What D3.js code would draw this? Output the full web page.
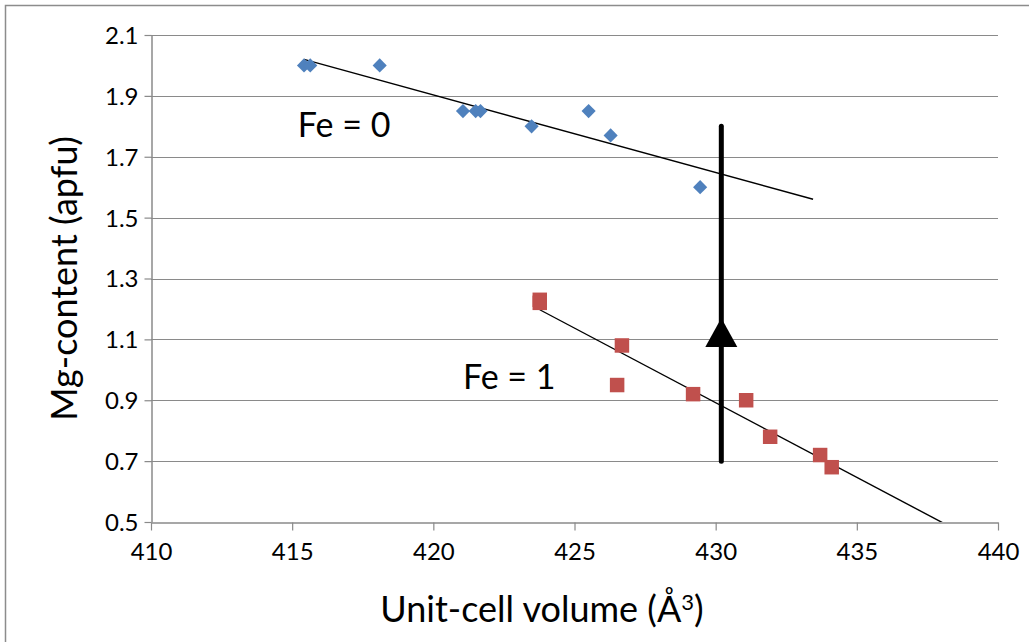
<!DOCTYPE html>
<html>
<head>
<meta charset="utf-8">
<script src="https://cdn.jsdelivr.net/npm/d3@7"></script>
<style>
  body { margin: 0; background: #fff; }
  text { font-family: Lato, "Open Sans", sans-serif; fill: #000; }
</style>
</head>
<body>
<div id="chart"></div>
<script>
// Fe = 0 series (blue diamonds)
var fe0Volume = [415.42, 415.64, 418.1, 421.05, 421.5, 421.67, 423.48, 425.5, 426.28, 429.45];
var fe0Mg     = [2.0, 2.0, 2.0, 1.85, 1.85, 1.85, 1.80, 1.85, 1.77, 1.60];

// Fe = 1 series (red squares)
var fe1Volume = [423.77, 423.77, 426.68, 426.51, 429.2, 431.08, 431.93, 433.7, 434.11];
var fe1Mg     = [1.23, 1.22, 1.08, 0.95, 0.92, 0.90, 0.78, 0.72, 0.68];

var xTicks = [410, 415, 420, 425, 430, 435, 440];
var yTicks = [0.5, 0.7, 0.9, 1.1, 1.3, 1.5, 1.7, 1.9, 2.1];

// annotation: arrow (volume, from Mg, to Mg, head tip, head base)
var arrowVolume = 430.2;
var arrowMg = [0.70, 1.80];
var arrowHead = [1.17, 1.075];

var labels = [
  {text: "Fe = 0", vol: 415.2, mg: 1.765},
  {text: "Fe = 1", vol: 421.05, mg: 0.937}
];

var width = 1029;
var height = 642;
var margin = {left: 151, right: 31, top: 35, bottom: 120};

var svg = d3.select("#chart").append("svg")
  .attr("width", width)
  .attr("height", height);

// outer chart border (only top/left visible)
svg.append("rect")
  .attr("x", 5.5).attr("y", 5.5)
  .attr("width", width + 20).attr("height", height + 20)
  .attr("fill", "none")
  .attr("stroke", "#8c8c8c")
  .attr("stroke-width", 1.5);

var x = d3.scaleLinear().domain([410, 440]).range([margin.left, width - margin.right]);
var y = d3.scaleLinear().domain([0.5, 2.1]).range([height - margin.bottom, margin.top]);

// gridlines
svg.append("g").selectAll("line")
  .data(yTicks.slice(1))
  .enter().append("line")
  .attr("x1", x(410)).attr("x2", x(440))
  .attr("y1", function(d){return Math.round(y(d)) + 0.5;})
  .attr("y2", function(d){return Math.round(y(d)) + 0.5;})
  .attr("stroke", "#8a8a8a")
  .attr("stroke-width", 1.2);

// axes
var xAxis = svg.append("g")
  .attr("transform", "translate(0," + (Math.round(y(0.5)) + 0.5) + ")")
  .call(d3.axisBottom(x).tickValues(xTicks).tickSize(8).tickSizeOuter(0).tickPadding(12));

var yAxis = svg.append("g")
  .attr("transform", "translate(" + (Math.round(x(410)) + 0.5) + ",0)")
  .call(d3.axisLeft(y).tickValues(yTicks).tickSize(7).tickSizeOuter(0).tickPadding(6)
    .tickFormat(d3.format(".1f")));

[xAxis, yAxis].forEach(function(a){
  a.select(".domain").attr("stroke", "#8a8a8a").attr("stroke-width", 1.5);
  a.selectAll(".tick line").attr("stroke", "#8a8a8a").attr("stroke-width", 1.2);
  a.selectAll("text").attr("font-family", "Lato, sans-serif").attr("font-size", 24).attr("fill", "#000");
});
yAxis.selectAll(".tick text").attr("dy", "0.35em");

// clip for trendlines
svg.append("clipPath").attr("id", "plotClip")
  .append("rect")
  .attr("x", x(410)).attr("y", y(2.1))
  .attr("width", x(440) - x(410)).attr("height", y(0.5) - y(2.1));

function trend(xs, ys, forward) {
  var mx = d3.mean(xs), my = d3.mean(ys);
  var sxy = d3.sum(xs, function(v, i){return (v - mx) * (ys[i] - my);});
  var sxx = d3.sum(xs, function(v){return (v - mx) * (v - mx);});
  var b = sxy / sxx;
  var x0 = d3.min(xs), x1 = d3.max(xs) + forward;
  return [[x0, my + b * (x0 - mx)], [x1, my + b * (x1 - mx)]];
}

var line = d3.line()
  .x(function(d){return x(d[0]);})
  .y(function(d){return y(d[1]);});

var trends = svg.append("g").attr("clip-path", "url(#plotClip)");
trends.append("path")
  .attr("d", line(trend(fe0Volume, fe0Mg, 4)))
  .attr("fill", "none").attr("stroke", "#000").attr("stroke-width", 1.4);
trends.append("path")
  .attr("d", line(trend(fe1Volume, fe1Mg, 4)))
  .attr("fill", "none").attr("stroke", "#000").attr("stroke-width", 1.4);

// markers
svg.selectAll(".fe0")
  .data(fe0Volume.map(function(v, i){return [v, fe0Mg[i]];}))
  .enter().append("path")
  .attr("class", "fe0")
  .attr("d", d3.symbol().type(d3.symbolSquare).size(100))
  .attr("transform", function(d){return "translate(" + x(d[0]) + "," + y(d[1]) + ") rotate(45)";})
  .attr("fill", "#4F81BD");

svg.selectAll(".fe1")
  .data(fe1Volume.map(function(v, i){return [v, fe1Mg[i]];}))
  .enter().append("path")
  .attr("class", "fe1")
  .attr("d", d3.symbol().type(d3.symbolSquare).size(210))
  .attr("transform", function(d){return "translate(" + x(d[0]) + "," + y(d[1]) + ")";})
  .attr("fill", "#C0504D");

// arrow
svg.append("line")
  .attr("x1", x(arrowVolume)).attr("x2", x(arrowVolume))
  .attr("y1", y(arrowMg[0])).attr("y2", y(arrowMg[1]))
  .attr("stroke", "#000").attr("stroke-width", 5).attr("stroke-linecap", "round");
svg.append("path")
  .attr("d", "M" + x(arrowVolume) + "," + y(arrowHead[0]) +
             "L" + (x(arrowVolume) - 16) + "," + y(arrowHead[1]) +
             "L" + (x(arrowVolume) + 16) + "," + y(arrowHead[1]) + "Z")
  .attr("fill", "#000");

// labels
svg.selectAll(".lbl")
  .data(labels)
  .enter().append("text")
  .attr("class", "lbl")
  .attr("x", function(d){return x(d.vol);})
  .attr("y", function(d){return y(d.mg);})
  .style("font-size", "34px")
  .text(function(d){return d.text;});

// axis titles
var xTitle = svg.append("text")
  .attr("x", 542)
  .attr("y", 622)
  .attr("text-anchor", "middle")
  .style("font-size", "36px")
  .text("Unit-cell volume (Å");
xTitle.append("tspan").attr("dy", "-0.55em").style("font-size", "22px").text("3");
xTitle.append("tspan").attr("dy", "0.34em").text(")");

svg.append("text")
  .attr("transform", "translate(77," + ((y(0.5) + y(2.1)) / 2) + ") rotate(-90)")
  .attr("text-anchor", "middle")
  .style("font-size", "36px")
  .text("Mg-content (apfu)");
</script>
</body>
</html>
